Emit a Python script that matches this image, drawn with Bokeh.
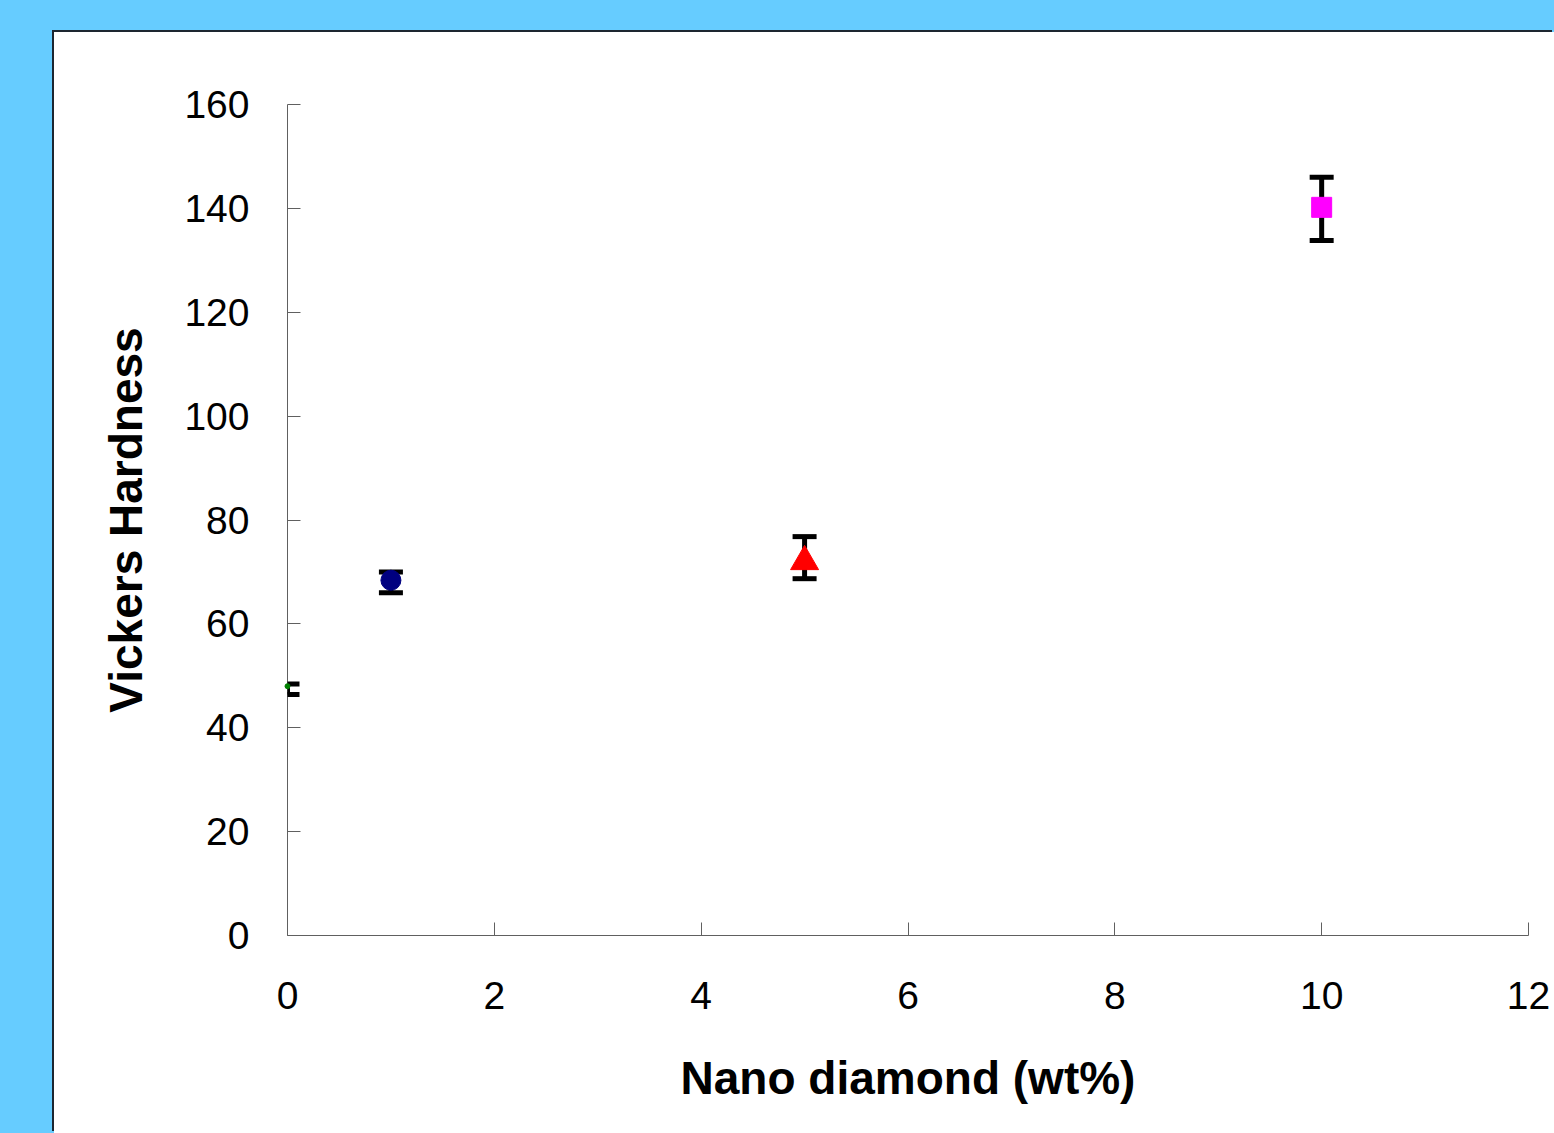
from bokeh.plotting import figure
from bokeh.models import Range1d, FixedTicker, Whisker, TeeHead, ColumnDataSource
from bokeh.embed import file_html
from bokeh.resources import INLINE

# ---- data ----
nano_wt = [0, 1, 5, 10]
hardness = [48.0, 68.4, 72.0, 140.2]
err_lower = [46.4, 66.0, 68.7, 133.8]
err_upper = [48.4, 70.0, 76.8, 146.0]
marker_colors = ["#008000", "#000080", "#FF0000", "#FF00FF"]
marker_kinds = ["circle", "circle", "triangle", "square"]
marker_sizes = [5, 20, 28, 20]
x_ticks = [0, 2, 4, 6, 8, 10, 12]
y_ticks = [0, 20, 40, 60, 80, 100, 120, 140, 160]

BG = "#66CCFF"

p = figure(width=1500, height=1101, output_backend="svg", toolbar_location=None,
           x_range=Range1d(0, 12), y_range=Range1d(0, 160),
           min_border_left=233, min_border_right=26, min_border_top=72, min_border_bottom=198,
           background_fill_color="white", border_fill_color="white",
           margin=(32, 0, 0, 54))
p.styles = {"box-shadow": "-2px -2px 0 0 #1d2630", "background-color": "white"}
p.outline_line_color = None
p.grid.visible = False

for ax in (p.xaxis[0], p.yaxis[0]):
    ax.axis_line_color = "#606060"
    ax.axis_line_width = 1
    ax.major_tick_line_color = "#606060"
    ax.major_tick_line_width = 1
    ax.major_tick_in = 13
    ax.major_tick_out = 0
    ax.minor_tick_line_color = None
    ax.major_label_text_font = "Liberation Sans"
    ax.major_label_text_font_size = "39px"
    ax.major_label_text_color = "black"
    ax.axis_label_text_font = "Liberation Sans"
    ax.axis_label_text_font_size = "46px"
    ax.axis_label_text_font_style = "bold"
    ax.axis_label_text_color = "black"

p.xaxis.ticker = FixedTicker(ticks=x_ticks)
p.yaxis.ticker = FixedTicker(ticks=y_ticks)
p.xaxis.major_label_standoff = 46
p.yaxis.major_label_standoff = 38
p.xaxis.axis_label = "Nano diamond (wt%)"
p.yaxis.axis_label = "Vickers Hardness"
p.xaxis.axis_label_standoff = 40
p.yaxis.axis_label_standoff = 29

src = ColumnDataSource(dict(x=nano_wt, y=hardness, lo=err_lower, hi=err_upper,
                            c=marker_colors, m=marker_kinds, s=marker_sizes))

wh = Whisker(source=src, base="x", lower="lo", upper="hi", dimension="height",
             line_color="black", line_width=5, level="annotation",
             upper_head=TeeHead(size=24, line_width=5, line_color="black"),
             lower_head=TeeHead(size=24, line_width=5, line_color="black"))
p.add_layout(wh)

p.scatter(x="x", y="y", source=src, marker="m", size="s",
          fill_color="c", line_color="c", line_width=1, level="overlay")

html = file_html(p, INLINE)
idx = html.rfind("<body")
end = html.find(">", idx)
html = (html[:idx]
        + '<body style="margin:0;background-color:%s;overflow:hidden;">' % BG
        + html[end + 1:])
open("out.html", "w").write(html)
